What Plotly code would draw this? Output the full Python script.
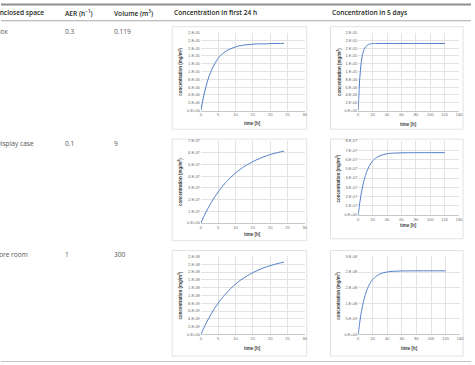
import plotly.graph_objects as go

W, H = 475, 365

# ---------------- data ----------------
row_names = ["Box", "Display case", "Store room"]
row_aer = ["0.3", "0.1", "1"]
row_volume = ["0.119", "9", "300"]
headers = ["Enclosed space", "AER (h<sup>−1</sup>)", "Volume (m<sup>3</sup>)",
           "Concentration in first 24 h", "Concentration in 5 days"]

t24 = list(range(0, 25))
t5d = [0, 2, 4, 6, 8, 10, 12, 14, 16, 18, 20, 25, 30, 35, 40, 45, 50, 60, 70, 80, 90, 100, 110, 120]

box_24 = [0, 0.45, 0.78, 1.02, 1.20, 1.34, 1.44, 1.51, 1.56, 1.60, 1.63, 1.66, 1.67,
          1.69, 1.69, 1.70, 1.71, 1.71, 1.71, 1.71, 1.72, 1.72, 1.72, 1.72, 1.72]  # x1e-5
box_5d = [0, 0.78, 1.20, 1.44, 1.56, 1.63, 1.67, 1.69, 1.71, 1.71, 1.72, 1.72, 1.72,
          1.72, 1.72, 1.72, 1.72, 1.72, 1.72, 1.72, 1.72, 1.72, 1.72, 1.72]  # x1e-5
display_24 = [0, 0.64, 1.22, 1.75, 2.23, 2.65, 3.04, 3.40, 3.72, 4.00, 4.27, 4.50, 4.72,
              4.91, 5.08, 5.24, 5.39, 5.51, 5.64, 5.74, 5.84, 5.93, 6.00, 6.08, 6.14]  # x1e-7
display_5d = [0, 1.22, 2.23, 3.04, 3.72, 4.27, 4.72, 5.08, 5.39, 5.64, 5.84, 6.19, 6.41,
              6.54, 6.63, 6.68, 6.70, 6.73, 6.74, 6.75, 6.75, 6.75, 6.75, 6.75]  # x1e-7
store_24 = [0, 0.194, 0.369, 0.528, 0.673, 0.802, 0.920, 1.026, 1.124, 1.210, 1.289, 1.361,
            1.426, 1.483, 1.536, 1.585, 1.628, 1.667, 1.703, 1.734, 1.765, 1.791, 1.814,
            1.836, 1.854]  # x1e-8
store_5d = [0, 0.369, 0.673, 0.920, 1.124, 1.289, 1.426, 1.536, 1.628, 1.703, 1.765, 1.873,
            1.939, 1.979, 2.003, 2.018, 2.026, 2.035, 2.038, 2.04, 2.04, 2.04, 2.04, 2.04]  # x1e-8

x24_ticks = [0, 5, 10, 15, 20, 25, 30]
x5d_ticks = [0, 20, 40, 60, 80, 100, 120, 140]

box_yticks = [0, 2e-6, 4e-6, 6e-6, 8e-6, 1e-5, 1.2e-5, 1.4e-5, 1.6e-5, 1.8e-5, 2e-5]
box_ylabels = ["0.E+00", "2.E-06", "4.E-06", "6.E-06", "8.E-06", "1.E-05", "1.E-05",
               "1.E-05", "2.E-05", "2.E-05", "2.E-05"]
disp24_yticks = [0, 1e-7, 2e-7, 3e-7, 4e-7, 5e-7, 6e-7, 7e-7]
disp24_ylabels = ["0.E+00", "1.E-07", "2.E-07", "3.E-07", "4.E-07", "5.E-07", "6.E-07", "7.E-07"]
disp5d_yticks = [0, 1e-7, 2e-7, 3e-7, 4e-7, 5e-7, 6e-7, 7e-7, 8e-7]
disp5d_ylabels = ["0.E+00", "1.E-07", "2.E-07", "3.E-07", "4.E-07", "5.E-07", "6.E-07",
                  "7.E-07", "8.E-07"]
store24_yticks = [0, 2e-9, 4e-9, 6e-9, 8e-9, 1e-8, 1.2e-8, 1.4e-8, 1.6e-8, 1.8e-8, 2e-8]
store24_ylabels = ["0.E+00", "2.E-09", "4.E-09", "6.E-09", "8.E-09", "1.E-08", "1.E-08",
                   "1.E-08", "2.E-08", "2.E-08", "2.E-08"]
store5d_yticks = [0, 5e-9, 1e-8, 1.5e-8, 2e-8, 2.5e-8]
store5d_ylabels = ["0.E+00", "5.E-09", "1.E-08", "2.E-08", "2.E-08", "3.E-08"]

# ---------------- layout helpers ----------------
def px(x):
    return x / W

def py(y):
    return 1 - y / H

charts = [
    # (t, values, scale, xticks, yticks, ylabels, frame(x0,y0,x1,y1), plot(x0,y0,x1,y1), xtitle_y, ytitle_x)
    (t24, box_24, 1e-5, x24_ticks, box_yticks, box_ylabels, (173, 24, 309, 128), (202, 30, 307, 109), 122, 181),
    (t5d, box_5d, 1e-5, x5d_ticks, box_yticks, box_ylabels, (333, 24, 467, 128), (361, 30, 463, 109), 123, 341),
    (t24, display_24, 1e-7, x24_ticks, disp24_yticks, disp24_ylabels, (173, 138, 309, 241), (202, 140, 307, 223), 235, 181),
    (t5d, display_5d, 1e-7, x5d_ticks, disp5d_yticks, disp5d_ylabels, (333, 138, 467, 239), (361, 140, 463, 215), 226, 341),
    (t24, store_24, 1e-8, x24_ticks, store24_yticks, store24_ylabels, (173, 251, 309, 358), (202, 257, 307, 336), 350, 181),
    (t5d, store_5d, 1e-8, x5d_ticks, store5d_yticks, store5d_ylabels, (333, 251, 467, 358), (361, 257, 464, 336), 350, 341),
]

fig = go.Figure()
shapes = []
annotations = []
grid = "#e3e3e3"
tickfont = dict(family="Liberation Sans, Arial", size=4, color="#6b6b6b")
titlefont = dict(family="Liberation Sans, Arial", size=4.5, color="#404040")

for i, (t, vals, scale, xt, yt, yl, frame, plot, xty, ytx) in enumerate(charts, start=1):
    xa = "xaxis" if i == 1 else f"xaxis{i}"
    ya = "yaxis" if i == 1 else f"yaxis{i}"
    xr = "x" if i == 1 else f"x{i}"
    yr = "y" if i == 1 else f"y{i}"
    fig.add_trace(go.Scatter(x=t, y=[v * scale for v in vals], mode="lines",
                             line=dict(color="#4f7bc8", width=1, shape="spline", smoothing=0.6),
                             xaxis=xr, yaxis=yr, showlegend=False, hoverinfo="skip"))
    x0, y0, x1, y1 = plot
    fig.update_layout(**{
        xa: dict(domain=[px(x0), px(x1)], range=[xt[0], xt[-1]], tickvals=xt,
                 ticktext=[str(v) for v in xt], showgrid=True, gridcolor=grid, gridwidth=0.6,
                 zeroline=False, showline=True, linecolor="#c8c8c8", linewidth=0.7,
                 tickfont=tickfont, ticks="", anchor=yr, fixedrange=True),
        ya: dict(domain=[py(y1), py(y0)], range=[yt[0], yt[-1]], tickvals=yt, ticktext=yl,
                 showgrid=True, gridcolor=grid, gridwidth=0.6, zeroline=False,
                 showline=False, tickfont=tickfont, ticks="", anchor=xr, fixedrange=True),
    })
    fx0, fy0, fx1, fy1 = frame
    shapes.append(dict(type="rect", xref="paper", yref="paper", x0=px(fx0), x1=px(fx1),
                       y0=py(fy1), y1=py(fy0), line=dict(color="#dcdcdc", width=0.8),
                       layer="below"))
    annotations.append(dict(text="<b>time [h]</b>", xref="paper", yref="paper",
                            x=px((x0 + x1) / 2), y=py(xty), showarrow=False,
                            xanchor="center", yanchor="middle", font=titlefont))
    annotations.append(dict(text="<b>concentration (mg/m<sup>3</sup>)</b>", xref="paper",
                            yref="paper", x=px(ytx), y=py((y0 + y1) / 2), showarrow=False,
                            textangle=-90, xanchor="center", yanchor="middle", font=titlefont))

# ---------------- table text ----------------
hfont = dict(family="Open Sans, Noto Sans", size=6.6, color="#231f20", weight=600)
rfont = dict(family="Open Sans, Noto Sans", size=6.6, color="#555555")
header_x = [-7, 63, 112, 173, 332]
for hx, htxt in zip(header_x, headers):
    annotations.append(dict(text=htxt, xref="paper", yref="paper", x=px(hx), y=py(10),
                            xanchor="left", yanchor="middle", showarrow=False, font=hfont))

row_y = [29, 142, 255]
name_x = [-7, -7, -10]
for ry, nx, name, aer, vol in zip(row_y, name_x, row_names, row_aer, row_volume):
    for cx, txt in zip([nx, 63, 112], [name, aer, vol]):
        annotations.append(dict(text=txt, xref="paper", yref="paper", x=px(cx), y=py(ry),
                                xanchor="left", yanchor="middle", showarrow=False, font=rfont))

# table rules
shapes.append(dict(type="line", xref="paper", yref="paper", x0=0, x1=1, y0=py(1.5), y1=py(1.5),
                   line=dict(color="#8f8f8f", width=2)))
shapes.append(dict(type="line", xref="paper", yref="paper", x0=0, x1=1, y0=py(18), y1=py(18),
                   line=dict(color="#a8a8a8", width=1.2)))
shapes.append(dict(type="line", xref="paper", yref="paper", x0=0, x1=1, y0=py(363.5), y1=py(363.5),
                   line=dict(color="#c8c8c8", width=1)))

fig.update_layout(width=W, height=H, margin=dict(l=0, r=0, t=0, b=0),
                  paper_bgcolor="white", plot_bgcolor="white",
                  shapes=shapes, annotations=annotations, showlegend=False)

fig.write_html("out.html", config={"displayModeBar": False})
